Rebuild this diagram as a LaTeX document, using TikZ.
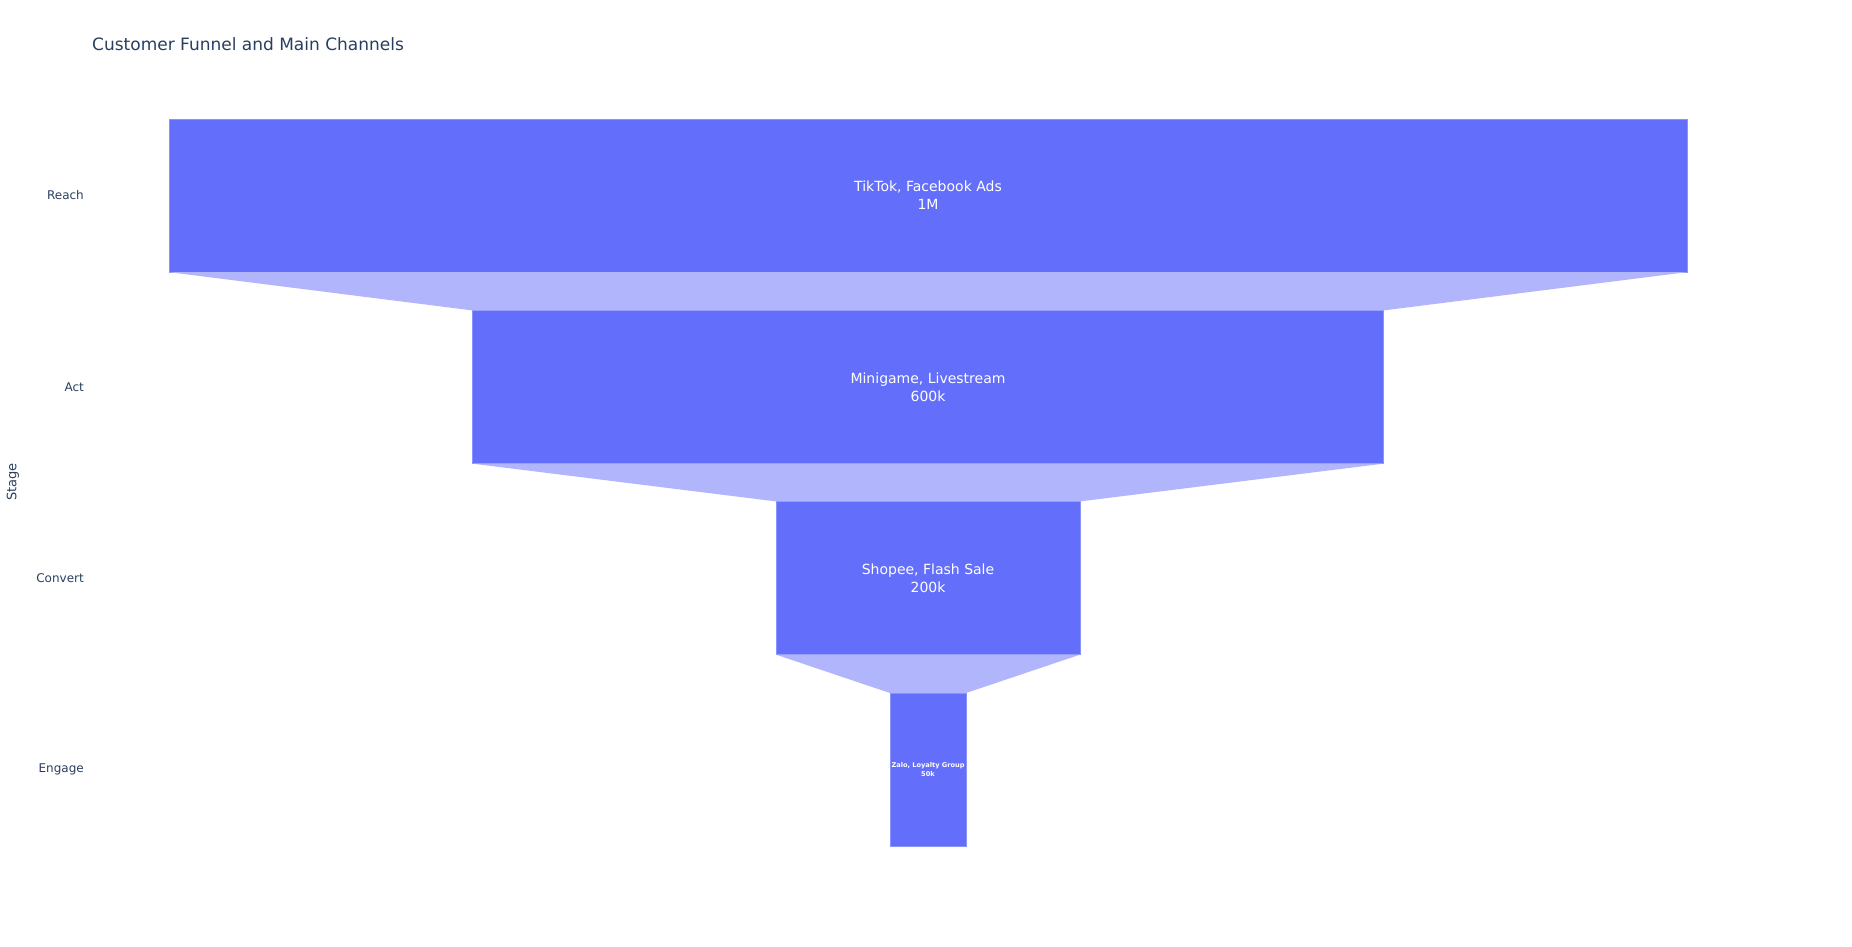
\documentclass[tikz,border=0pt]{standalone}
\usepackage{fontspec}
\setmainfont{DejaVu Sans}
\definecolor{bar}{HTML}{636EFA}
\definecolor{conn}{HTML}{B1B6FC}
\definecolor{edge}{HTML}{8A92FB}
\definecolor{axis}{HTML}{2A3F5F}
\tikzset{
  stage/.style={draw=edge, line width=0.6pt, fill=bar, minimum height=152.6pt, inner sep=0pt,
    text=white, align=center, font=\fontsize{14}{17.7}\selectfont},
  connector/.style={fill=conn, draw=none},
  tick/.style={anchor=east, text=axis, inner sep=0pt, font=\fontsize{12}{14}\selectfont},
}
\begin{document}
\begin{tikzpicture}[x=1pt, y=-1pt]
\useasboundingbox[fill=white] (0,0) rectangle (1852,946);
\node[anchor=west, text=axis, inner sep=0pt, font=\fontsize{17}{20}\selectfont] (title) at (92,44) {Customer Funnel and Main Channels};
% stages
\node[stage, minimum width=1518pt] (reach) at (928,195.5) {TikTok, Facebook Ads\\1M};
\node[stage, minimum width=911pt] (act) at (928,387) {Minigame, Livestream\\600k};
\node[stage, minimum width=303.6pt] (convert) at (928,578) {Shopee, Flash Sale\\200k};
\node[stage, minimum width=76pt, font=\fontsize{6.6}{8.6}\selectfont\bfseries] (engage) at (928,769.5) {Zalo, Loyalty Group\\50k};
% connectors
\fill[connector] (reach.south west) -- (reach.south east) -- (act.north east) -- (act.north west) -- cycle;
\fill[connector] (act.south west) -- (act.south east) -- (convert.north east) -- (convert.north west) -- cycle;
\fill[connector] (convert.south west) -- (convert.south east) -- (engage.north east) -- (engage.north west) -- cycle;
% axis
\node[tick] (treach) at (84,195.5) {Reach};
\node[tick] (tact) at (84,387) {Act};
\node[tick] (tconvert) at (84,578) {Convert};
\node[tick] (tengage) at (84,769.5) {Engage};
\node[rotate=90, text=axis, inner sep=0pt, font=\fontsize{13}{15}\selectfont] (ylabel) at (13,482) {Stage};
\end{tikzpicture}
\end{document}
